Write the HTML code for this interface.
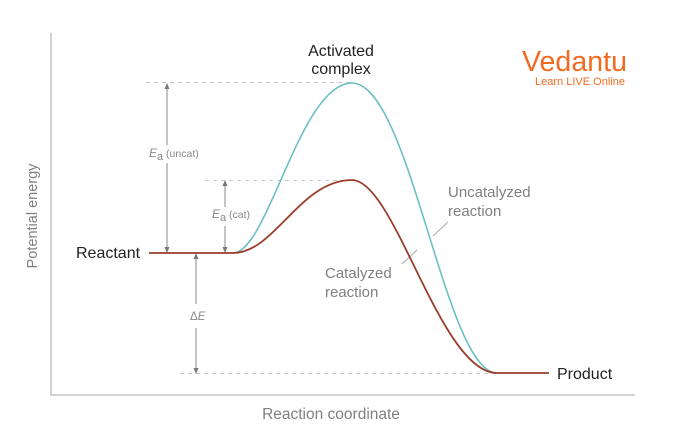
<!DOCTYPE html>
<html><head><meta charset="utf-8"><style>
html,body{margin:0;padding:0;background:#fff;}
svg{display:block;}
text{font-family:"Liberation Sans",sans-serif;}
</style></head><body>
<svg width="687" height="433" viewBox="0 0 687 433" xmlns="http://www.w3.org/2000/svg">
<defs>
<marker id="ah" markerWidth="6" markerHeight="6" refX="3" refY="3" orient="auto" markerUnits="userSpaceOnUse">
<path d="M0,0.5 L6,3 L0,5.5 Z" fill="#777"/>
</marker>
</defs>
<!-- axes -->
<line x1="51" y1="33" x2="51" y2="395.5" stroke="#c4c4c4" stroke-width="1.5"/>
<line x1="50.5" y1="395" x2="635" y2="395" stroke="#c4c4c4" stroke-width="1.5"/>
<!-- dashed lines -->
<g stroke="#c8c8c8" stroke-width="1" stroke-dasharray="4,4" fill="none">
<line x1="146" y1="82.5" x2="350" y2="82.5"/>
<line x1="205" y1="180.5" x2="350" y2="180.5"/>
<line x1="180" y1="373.5" x2="497" y2="373.5"/>
</g>
<!-- arrows -->
<g stroke="#888" stroke-width="1" fill="none">
<line x1="167" y1="145" x2="167" y2="86" marker-end="url(#ah)"/>
<line x1="167" y1="163" x2="167" y2="250" marker-end="url(#ah)"/>
<line x1="225" y1="207" x2="225" y2="183" marker-end="url(#ah)"/>
<line x1="225" y1="226" x2="225" y2="250" marker-end="url(#ah)"/>
<line x1="196" y1="304" x2="196" y2="256" marker-end="url(#ah)"/>
<line x1="196" y1="328" x2="196" y2="371" marker-end="url(#ah)"/>
</g>
<!-- leader lines -->
<line x1="448" y1="222" x2="433" y2="236" stroke="#aaa" stroke-width="1"/>
<line x1="417" y1="250" x2="402" y2="264" stroke="#aaa" stroke-width="1"/>
<!-- curves -->
<path d="M233,253 C268,253 300,83 352,83 C410,83 445,373 497,373" stroke="#6cbfc3" stroke-width="1.6" fill="none"/>
<path d="M149,253 L233,253 C275,253 300,180 352,180 C395,180 440,373 497,373 L549,373" stroke="#9a3e2c" stroke-width="1.8" fill="none"/>
<!-- labels -->
<g fill="#222" font-size="16">
<text x="341" y="56" text-anchor="middle">Activated</text>
<text x="341" y="74" text-anchor="middle">complex</text>
<text x="76" y="258">Reactant</text>
<text x="557" y="379">Product</text>
</g>
<g fill="#808080" font-size="15">
<text x="448" y="197">Uncatalyzed</text>
<text x="448" y="216">reaction</text>
<text x="325" y="278">Catalyzed</text>
<text x="325" y="297">reaction</text>
<text x="331" y="419" text-anchor="middle" font-size="15.5">Reaction coordinate</text>
<text transform="translate(37,216) rotate(-90)" text-anchor="middle" font-size="14.5">Potential energy</text>
</g>
<g fill="#888" font-size="11">
<text x="149" y="157"><tspan font-style="italic" font-size="12">E</tspan><tspan font-size="11" dy="3">a</tspan><tspan dy="-3" font-size="10.5"> (uncat)</tspan></text>
<text x="212" y="218"><tspan font-style="italic" font-size="12">E</tspan><tspan font-size="11" dy="3">a</tspan><tspan dy="-3" font-size="10.5"> (cat)</tspan></text>
<text x="190" y="320" font-size="11.5">Δ<tspan font-style="italic">E</tspan></text>
</g>
<!-- logo -->
<text x="522" y="71" fill="#f36b21" font-size="29" textLength="105" lengthAdjust="spacingAndGlyphs">Vedantu</text>
<text x="535" y="85" fill="#f36b21" font-size="11" textLength="90" lengthAdjust="spacingAndGlyphs">Learn LIVE Online</text>
</svg>
</body></html>
